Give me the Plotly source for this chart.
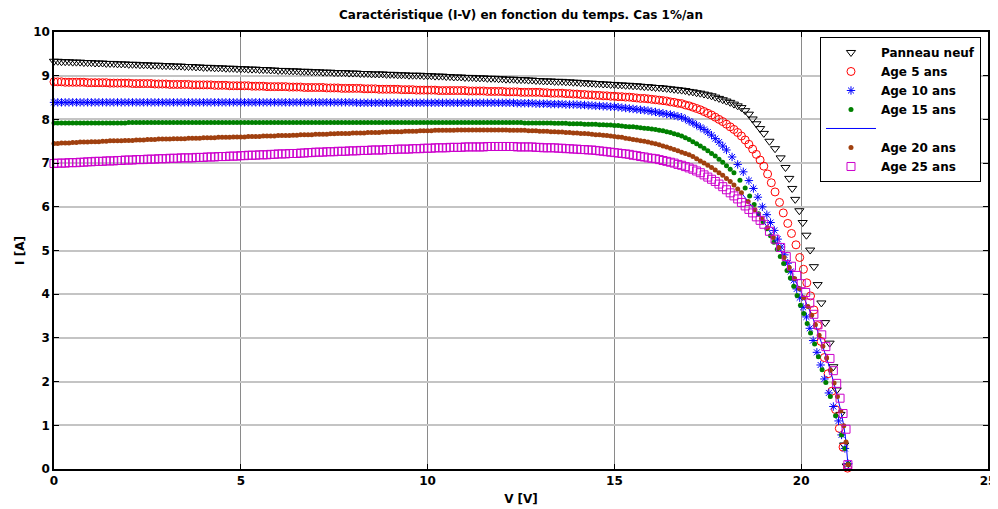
import plotly.graph_objects as go

# ---------------- data ----------------
# Common voltage samples of the flat part and beginning of the knee [V]
V_GRID = [
    0.0, 0.1, 0.2, 0.3, 0.4, 0.5, 0.6, 0.7, 0.8, 0.9,
    1.0, 1.1, 1.2, 1.3, 1.4, 1.5, 1.6, 1.7, 1.8, 1.9,
    2.0, 2.1, 2.2, 2.3, 2.4, 2.5, 2.6, 2.7, 2.8, 2.9,
    3.0, 3.1, 3.2, 3.3, 3.4, 3.5, 3.6, 3.7, 3.8, 3.9,
    4.0, 4.1, 4.2, 4.3, 4.4, 4.5, 4.6, 4.7, 4.8, 4.9,
    5.0, 5.1, 5.2, 5.3, 5.4, 5.5, 5.6, 5.7, 5.8, 5.9,
    6.0, 6.1, 6.2, 6.3, 6.4, 6.5, 6.6, 6.7, 6.8, 6.9,
    7.0, 7.1, 7.2, 7.3, 7.4, 7.5, 7.6, 7.7, 7.8, 7.9,
    8.0, 8.1, 8.2, 8.3, 8.4, 8.5, 8.6, 8.7, 8.8, 8.9,
    9.0, 9.1, 9.2, 9.3, 9.4, 9.5, 9.6, 9.7, 9.8, 9.9,
    10.0, 10.1, 10.2, 10.3, 10.4, 10.5, 10.6, 10.7, 10.8, 10.9,
    11.0, 11.1, 11.2, 11.3, 11.4, 11.5, 11.6, 11.7, 11.8, 11.9,
    12.0, 12.1, 12.2, 12.3, 12.4, 12.5, 12.6, 12.7, 12.8, 12.9,
    13.0, 13.1, 13.2, 13.3, 13.4, 13.5, 13.6, 13.7, 13.8, 13.9,
    14.0, 14.1, 14.2, 14.3, 14.4, 14.5, 14.6, 14.7, 14.8, 14.9,
    15.0, 15.1, 15.2, 15.3, 15.4, 15.5, 15.6, 15.7, 15.8, 15.9,
    16.0, 16.1, 16.2, 16.3, 16.4, 16.5, 16.6, 16.7, 16.8, 16.9,
    17.0, 17.1, 17.2, 17.3, 17.4, 17.5, 17.6, 17.7, 17.8, 17.9,
    18.0,
]

# ---- Panneau neuf ----
I_NEUF_FLAT = [
    9.33, 9.33, 9.32, 9.32, 9.32, 9.31, 9.31, 9.31, 9.30, 9.30,
    9.30, 9.29, 9.29, 9.29, 9.28, 9.28, 9.28, 9.27, 9.27, 9.27,
    9.26, 9.26, 9.26, 9.25, 9.25, 9.25, 9.24, 9.24, 9.24, 9.23,
    9.23, 9.23, 9.22, 9.22, 9.22, 9.21, 9.21, 9.21, 9.20, 9.20,
    9.19, 9.19, 9.19, 9.18, 9.18, 9.18, 9.17, 9.17, 9.17, 9.16,
    9.16, 9.16, 9.15, 9.15, 9.15, 9.14, 9.14, 9.14, 9.13, 9.13,
    9.12, 9.12, 9.12, 9.11, 9.11, 9.11, 9.10, 9.10, 9.10, 9.09,
    9.09, 9.09, 9.08, 9.08, 9.08, 9.07, 9.07, 9.07, 9.07, 9.06,
    9.06, 9.06, 9.05, 9.05, 9.05, 9.04, 9.04, 9.04, 9.04, 9.03,
    9.03, 9.03, 9.02, 9.02, 9.02, 9.01, 9.01, 9.01, 9.01, 9.00,
    9.00, 9.00, 8.99, 8.99, 8.99, 8.98, 8.98, 8.97, 8.97, 8.97,
    8.96, 8.96, 8.96, 8.95, 8.95, 8.95, 8.94, 8.94, 8.94, 8.93,
    8.93, 8.92, 8.92, 8.92, 8.91, 8.91, 8.91, 8.90, 8.90, 8.89,
    8.89, 8.88, 8.88, 8.88, 8.87, 8.87, 8.87, 8.86, 8.86, 8.85,
    8.85, 8.84, 8.84, 8.83, 8.83, 8.82, 8.82, 8.81, 8.81, 8.80,
    8.80, 8.79, 8.79, 8.78, 8.78, 8.77, 8.77, 8.76, 8.75, 8.75,
    8.74, 8.73, 8.73, 8.72, 8.71, 8.70, 8.69, 8.68, 8.67, 8.66,
    8.64, 8.63, 8.61, 8.60, 8.58, 8.56, 8.54, 8.51, 8.48, 8.45,
    8.42,
]
V_NEUF_KNEE = [18.1, 18.2, 18.3, 18.4, 18.5, 18.6, 18.7, 18.8, 18.9, 19.0,
               19.15, 19.3, 19.45, 19.58, 19.68, 19.76, 19.84, 19.95, 20.04, 20.14,
               20.24, 20.34, 20.44, 20.54, 20.64, 20.76, 20.86, 20.95, 21.05, 21.15,
               21.22]
I_NEUF_KNEE = [8.39, 8.35, 8.31, 8.27, 8.20, 8.12, 8.01, 7.90, 7.79, 7.68,
               7.50, 7.33, 7.12, 6.90, 6.65, 6.42, 6.17, 5.91, 5.64, 5.35,
               5.01, 4.63, 4.22, 3.80, 3.35, 2.88, 2.34, 1.81, 1.25, 0.55,
               0.07]

# ---- Age 5 ans ----
I_AGE5_FLAT = [
    8.86, 8.86, 8.86, 8.85, 8.85, 8.85, 8.85, 8.85, 8.85, 8.84,
    8.84, 8.84, 8.84, 8.84, 8.84, 8.83, 8.83, 8.83, 8.83, 8.83,
    8.83, 8.82, 8.82, 8.82, 8.82, 8.82, 8.82, 8.81, 8.81, 8.81,
    8.81, 8.80, 8.80, 8.80, 8.80, 8.80, 8.80, 8.79, 8.79, 8.79,
    8.79, 8.79, 8.79, 8.78, 8.78, 8.78, 8.78, 8.77, 8.77, 8.77,
    8.77, 8.77, 8.77, 8.76, 8.76, 8.76, 8.76, 8.75, 8.75, 8.75,
    8.75, 8.75, 8.75, 8.74, 8.74, 8.74, 8.74, 8.73, 8.73, 8.73,
    8.73, 8.73, 8.73, 8.72, 8.72, 8.72, 8.72, 8.71, 8.71, 8.71,
    8.71, 8.71, 8.71, 8.70, 8.70, 8.70, 8.70, 8.69, 8.69, 8.69,
    8.69, 8.69, 8.69, 8.68, 8.68, 8.68, 8.68, 8.67, 8.67, 8.67,
    8.67, 8.67, 8.67, 8.66, 8.66, 8.66, 8.66, 8.66, 8.66, 8.66,
    8.66, 8.65, 8.65, 8.65, 8.65, 8.65, 8.64, 8.64, 8.64, 8.64,
    8.64, 8.63, 8.63, 8.63, 8.63, 8.62, 8.62, 8.62, 8.62, 8.62,
    8.62, 8.61, 8.61, 8.60, 8.60, 8.60, 8.60, 8.59, 8.59, 8.58,
    8.58, 8.57, 8.57, 8.56, 8.56, 8.55, 8.55, 8.54, 8.54, 8.53,
    8.53, 8.52, 8.52, 8.51, 8.51, 8.50, 8.49, 8.48, 8.48, 8.47,
    8.46, 8.45, 8.44, 8.43, 8.42, 8.40, 8.39, 8.37, 8.36, 8.33,
    8.31, 8.28, 8.25, 8.22, 8.18, 8.14, 8.10, 8.05, 8.00, 7.95,
    7.89,
]
V_AGE5_KNEE = [18.1, 18.2, 18.3, 18.4, 18.5, 18.6, 18.7, 18.8, 18.9, 19.0,
               19.1, 19.2, 19.3, 19.42, 19.52, 19.64, 19.74, 19.86, 19.96, 20.06,
               20.15, 20.25, 20.34, 20.44, 20.53, 20.62, 20.72, 20.82, 20.92, 21.02,
               21.12, 21.24]
I_AGE5_KNEE = [7.83, 7.77, 7.70, 7.62, 7.53, 7.43, 7.32, 7.20, 7.07, 6.93,
               6.75, 6.55, 6.34, 6.10, 5.86, 5.62, 5.39, 5.13, 4.84, 4.57,
               4.26, 3.96, 3.64, 3.28, 2.92, 2.55, 2.18, 1.78, 1.36, 0.93,
               0.50, 0.02]

# ---- Age 10 ans ----
I_AGE10_FLAT = [
    8.39, 8.39, 8.39, 8.39, 8.39, 8.39, 8.39, 8.39, 8.39, 8.39,
    8.39, 8.39, 8.39, 8.39, 8.39, 8.39, 8.39, 8.39, 8.39, 8.39,
    8.39, 8.39, 8.39, 8.39, 8.39, 8.39, 8.39, 8.39, 8.39, 8.39,
    8.39, 8.39, 8.39, 8.39, 8.39, 8.39, 8.39, 8.39, 8.39, 8.39,
    8.39, 8.39, 8.39, 8.39, 8.39, 8.39, 8.39, 8.39, 8.39, 8.39,
    8.39, 8.39, 8.39, 8.39, 8.39, 8.39, 8.39, 8.39, 8.39, 8.39,
    8.39, 8.39, 8.39, 8.39, 8.39, 8.39, 8.39, 8.39, 8.39, 8.39,
    8.39, 8.39, 8.39, 8.39, 8.39, 8.39, 8.39, 8.39, 8.39, 8.39,
    8.39, 8.38, 8.38, 8.38, 8.38, 8.38, 8.38, 8.38, 8.38, 8.38,
    8.38, 8.38, 8.38, 8.38, 8.38, 8.38, 8.38, 8.38, 8.38, 8.38,
    8.38, 8.38, 8.38, 8.38, 8.38, 8.38, 8.38, 8.38, 8.38, 8.38,
    8.38, 8.38, 8.38, 8.38, 8.38, 8.38, 8.38, 8.38, 8.38, 8.38,
    8.38, 8.38, 8.38, 8.38, 8.37, 8.37, 8.37, 8.37, 8.37, 8.36,
    8.36, 8.36, 8.36, 8.35, 8.35, 8.35, 8.35, 8.34, 8.34, 8.34,
    8.34, 8.33, 8.33, 8.32, 8.32, 8.31, 8.31, 8.30, 8.30, 8.29,
    8.29, 8.28, 8.27, 8.26, 8.25, 8.24, 8.23, 8.22, 8.21, 8.20,
    8.18, 8.17, 8.15, 8.14, 8.12, 8.11, 8.09, 8.07, 8.05, 8.01,
    7.96, 7.92, 7.87, 7.82, 7.77, 7.71, 7.64, 7.56, 7.48, 7.39,
    7.30,
]
V_AGE10_KNEE = [18.15, 18.3, 18.45, 18.6, 18.72, 18.84, 18.96, 19.08, 19.18, 19.28,
                19.37, 19.46, 19.55, 19.64, 19.72, 19.8, 19.88, 19.96, 20.05, 20.14,
                20.23, 20.32, 20.42, 20.52, 20.62, 20.74, 20.86, 21.0, 21.08, 21.17,
                21.26]
I_AGE10_KNEE = [7.14, 6.97, 6.80, 6.60, 6.42, 6.22, 6.00, 5.82, 5.64, 5.46,
                5.26, 5.08, 4.90, 4.71, 4.52, 4.32, 4.12, 3.92, 3.70, 3.48,
                3.22, 2.94, 2.67, 2.38, 2.06, 1.74, 1.43, 1.10, 0.78, 0.47,
                0.12]

# ---- Age 15 ans ----
I_AGE15_FLAT = [
    7.92, 7.92, 7.92, 7.92, 7.92, 7.92, 7.92, 7.92, 7.92, 7.92,
    7.92, 7.92, 7.92, 7.92, 7.92, 7.92, 7.92, 7.92, 7.92, 7.92,
    7.93, 7.93, 7.93, 7.93, 7.93, 7.93, 7.93, 7.93, 7.93, 7.93,
    7.93, 7.93, 7.93, 7.93, 7.93, 7.93, 7.93, 7.93, 7.93, 7.93,
    7.93, 7.93, 7.93, 7.93, 7.93, 7.93, 7.93, 7.93, 7.93, 7.93,
    7.93, 7.93, 7.93, 7.93, 7.93, 7.93, 7.93, 7.93, 7.93, 7.93,
    7.93, 7.93, 7.93, 7.93, 7.93, 7.93, 7.93, 7.93, 7.93, 7.93,
    7.93, 7.93, 7.93, 7.93, 7.93, 7.93, 7.93, 7.93, 7.93, 7.93,
    7.93, 7.93, 7.93, 7.93, 7.93, 7.93, 7.93, 7.93, 7.93, 7.93,
    7.93, 7.93, 7.93, 7.93, 7.93, 7.93, 7.93, 7.93, 7.93, 7.93,
    7.93, 7.93, 7.93, 7.93, 7.93, 7.93, 7.93, 7.93, 7.93, 7.93,
    7.93, 7.93, 7.93, 7.93, 7.93, 7.93, 7.93, 7.93, 7.93, 7.93,
    7.93, 7.93, 7.93, 7.93, 7.93, 7.93, 7.92, 7.92, 7.92, 7.92,
    7.92, 7.92, 7.92, 7.92, 7.91, 7.91, 7.91, 7.91, 7.90, 7.90,
    7.90, 7.90, 7.89, 7.89, 7.89, 7.89, 7.88, 7.88, 7.87, 7.87,
    7.86, 7.86, 7.85, 7.84, 7.83, 7.83, 7.82, 7.81, 7.80, 7.79,
    7.78, 7.77, 7.75, 7.74, 7.72, 7.70, 7.67, 7.65, 7.62, 7.58,
    7.54, 7.49, 7.44, 7.39, 7.34, 7.28, 7.22, 7.16, 7.09, 7.02,
    6.94,
]
V_AGE15_KNEE = [18.1, 18.2, 18.36, 18.5, 18.62, 18.74, 18.86, 18.98, 19.08, 19.18,
                19.27, 19.36, 19.44, 19.53, 19.62, 19.71, 19.8, 19.89, 19.98, 20.07,
                20.16, 20.25, 20.36, 20.46, 20.56, 20.66, 20.78, 20.92, 21.08, 21.17,
                21.26]
I_AGE15_KNEE = [6.86, 6.78, 6.61, 6.43, 6.25, 6.05, 5.84, 5.66, 5.50, 5.34,
                5.19, 5.03, 4.86, 4.70, 4.54, 4.37, 4.18, 3.97, 3.75, 3.56,
                3.33, 3.11, 2.86, 2.57, 2.27, 1.98, 1.66, 1.22, 0.78, 0.47,
                0.12]

# ---- Age 20 ans ----
I_AGE20_FLAT = [
    7.45, 7.45, 7.46, 7.46, 7.46, 7.47, 7.47, 7.48, 7.48, 7.48,
    7.49, 7.49, 7.49, 7.50, 7.50, 7.51, 7.51, 7.51, 7.51, 7.52,
    7.52, 7.52, 7.53, 7.53, 7.53, 7.54, 7.54, 7.54, 7.55, 7.55,
    7.55, 7.55, 7.56, 7.56, 7.56, 7.56, 7.57, 7.57, 7.57, 7.57,
    7.58, 7.58, 7.58, 7.58, 7.59, 7.59, 7.59, 7.59, 7.60, 7.60,
    7.60, 7.60, 7.61, 7.61, 7.61, 7.61, 7.62, 7.62, 7.62, 7.62,
    7.63, 7.63, 7.63, 7.63, 7.64, 7.64, 7.65, 7.65, 7.65, 7.65,
    7.66, 7.66, 7.66, 7.66, 7.67, 7.67, 7.68, 7.68, 7.68, 7.68,
    7.69, 7.69, 7.69, 7.69, 7.70, 7.70, 7.70, 7.70, 7.71, 7.71,
    7.72, 7.72, 7.72, 7.72, 7.73, 7.73, 7.73, 7.73, 7.74, 7.74,
    7.74, 7.74, 7.75, 7.75, 7.75, 7.75, 7.75, 7.75, 7.76, 7.76,
    7.76, 7.76, 7.76, 7.76, 7.76, 7.76, 7.76, 7.76, 7.76, 7.76,
    7.76, 7.76, 7.75, 7.75, 7.75, 7.75, 7.75, 7.74, 7.74, 7.74,
    7.73, 7.73, 7.73, 7.72, 7.72, 7.71, 7.71, 7.70, 7.70, 7.69,
    7.69, 7.68, 7.68, 7.67, 7.66, 7.65, 7.65, 7.64, 7.63, 7.62,
    7.61, 7.60, 7.59, 7.57, 7.56, 7.54, 7.53, 7.51, 7.50, 7.48,
    7.46, 7.44, 7.42, 7.39, 7.37, 7.34, 7.31, 7.28, 7.25, 7.22,
    7.19, 7.15, 7.10, 7.05, 7.00, 6.95, 6.90, 6.84, 6.78, 6.72,
    6.65,
]
V_AGE20_KNEE = [18.1, 18.2, 18.3, 18.4, 18.58, 18.76, 18.94, 19.1, 19.25, 19.4,
                19.54, 19.68, 19.82, 19.95, 20.07, 20.18, 20.28, 20.38, 20.48, 20.58,
                20.68, 20.78, 20.88, 20.97, 21.06, 21.14, 21.2, 21.25]
I_AGE20_KNEE = [6.58, 6.50, 6.41, 6.32, 6.12, 5.93, 5.73, 5.52, 5.30, 5.07,
                4.84, 4.61, 4.36, 4.13, 3.92, 3.72, 3.52, 3.30, 3.06, 2.81,
                2.54, 2.26, 1.97, 1.66, 1.33, 0.99, 0.62, 0.10]

# ---- Age 25 ans ----
I_AGE25_FLAT = [
    6.99, 7.00, 7.00, 7.00, 7.01, 7.01, 7.01, 7.02, 7.02, 7.03,
    7.03, 7.04, 7.04, 7.04, 7.05, 7.05, 7.05, 7.06, 7.06, 7.07,
    7.07, 7.07, 7.08, 7.08, 7.08, 7.09, 7.09, 7.09, 7.10, 7.10,
    7.10, 7.11, 7.11, 7.11, 7.12, 7.12, 7.12, 7.12, 7.13, 7.13,
    7.13, 7.14, 7.14, 7.14, 7.15, 7.15, 7.15, 7.16, 7.16, 7.16,
    7.17, 7.17, 7.18, 7.18, 7.18, 7.19, 7.19, 7.19, 7.20, 7.20,
    7.21, 7.21, 7.21, 7.22, 7.22, 7.22, 7.23, 7.23, 7.24, 7.24,
    7.25, 7.25, 7.25, 7.26, 7.26, 7.26, 7.27, 7.27, 7.27, 7.28,
    7.28, 7.28, 7.29, 7.29, 7.29, 7.30, 7.30, 7.30, 7.30, 7.31,
    7.31, 7.31, 7.32, 7.32, 7.32, 7.32, 7.33, 7.33, 7.33, 7.34,
    7.34, 7.34, 7.35, 7.35, 7.35, 7.35, 7.36, 7.36, 7.36, 7.36,
    7.37, 7.37, 7.37, 7.37, 7.37, 7.37, 7.38, 7.38, 7.38, 7.38,
    7.38, 7.38, 7.38, 7.38, 7.37, 7.37, 7.37, 7.37, 7.37, 7.36,
    7.36, 7.35, 7.35, 7.35, 7.35, 7.34, 7.34, 7.33, 7.33, 7.32,
    7.32, 7.31, 7.31, 7.30, 7.30, 7.29, 7.28, 7.27, 7.26, 7.25,
    7.24, 7.23, 7.22, 7.21, 7.20, 7.18, 7.17, 7.15, 7.14, 7.12,
    7.11, 7.10, 7.08, 7.06, 7.04, 7.02, 7.00, 6.97, 6.95, 6.92,
    6.89, 6.86, 6.82, 6.78, 6.73, 6.68, 6.63, 6.58, 6.52, 6.46,
    6.39,
]
V_AGE25_KNEE = [18.1, 18.2, 18.3, 18.4, 18.5, 18.6, 18.7, 18.8, 18.9, 19.0,
                19.15, 19.3, 19.45, 19.6, 19.74, 19.88, 20.0, 20.12, 20.23, 20.34,
                20.45, 20.55, 20.66, 20.77, 20.86, 20.95, 21.04, 21.12, 21.2, 21.25]
I_AGE25_KNEE = [6.32, 6.25, 6.18, 6.10, 6.02, 5.94, 5.86, 5.77, 5.69, 5.60,
                5.44, 5.26, 5.07, 4.86, 4.64, 4.43, 4.24, 4.04, 3.80, 3.54,
                3.30, 3.07, 2.80, 2.53, 2.25, 1.96, 1.62, 1.27, 0.91, 0.10]

X_TICKS = [0, 5, 10, 15, 20, 25]
Y_TICKS = [0, 1, 2, 3, 4, 5, 6, 7, 8, 9, 10]

TITLE = "Caractéristique (I-V) en fonction du temps. Cas 1%/an"
X_LABEL = "V [V]"
Y_LABEL = "I [A]"

for _flat in (I_NEUF_FLAT, I_AGE5_FLAT, I_AGE10_FLAT, I_AGE15_FLAT, I_AGE20_FLAT, I_AGE25_FLAT):
    assert len(_flat) == len(V_GRID), len(_flat)
for _v, _i in ((V_NEUF_KNEE, I_NEUF_KNEE), (V_AGE5_KNEE, I_AGE5_KNEE),
               (V_AGE10_KNEE, I_AGE10_KNEE), (V_AGE15_KNEE, I_AGE15_KNEE),
               (V_AGE20_KNEE, I_AGE20_KNEE), (V_AGE25_KNEE, I_AGE25_KNEE)):
    assert len(_v) == len(_i), (len(_v), len(_i))

# ---------------- figure ----------------
FONT = "DejaVu Sans, Liberation Sans, Arial, sans-serif"

# The page body has an 8 px margin: the figure is 990x501 so that the plot
# area lands on the same pixels as in the reference.
W, H = 990, 501

series = [
    ("Panneau neuf", V_GRID + V_NEUF_KNEE, I_NEUF_FLAT + I_NEUF_KNEE,
     dict(symbol="triangle-down-open", size=8, color="black", line=dict(width=1, color="black"))),
    ("Age 5 ans", V_GRID + V_AGE5_KNEE, I_AGE5_FLAT + I_AGE5_KNEE,
     dict(symbol="circle-open", size=8, color="#ff0000", line=dict(width=1, color="#ff0000"))),
    ("Age 10 ans", V_GRID + V_AGE10_KNEE, I_AGE10_FLAT + I_AGE10_KNEE,
     dict(symbol="asterisk-open", size=7, color="#0000ff", line=dict(width=1, color="#0000ff"))),
    ("Age 15 ans", V_GRID + V_AGE15_KNEE, I_AGE15_FLAT + I_AGE15_KNEE,
     dict(symbol="circle", size=5, color="#008000", line=dict(width=0))),
]

fig = go.Figure()
for name, xs, ys, mk in series:
    fig.add_trace(go.Scatter(x=xs, y=ys, mode="markers", name=name, marker=mk,
                             cliponaxis=False))

# thin blue line (unnamed legend entry)
fig.add_trace(go.Scatter(x=V_GRID + V_AGE20_KNEE, y=I_AGE20_FLAT + I_AGE20_KNEE,
                         mode="lines", name="", line=dict(color="#0000ff", width=1),
                         cliponaxis=False))

fig.add_trace(go.Scatter(x=V_GRID + V_AGE20_KNEE, y=I_AGE20_FLAT + I_AGE20_KNEE,
                         mode="markers", name="Age 20 ans",
                         marker=dict(symbol="circle", size=5, color="#a0400f", line=dict(width=0)),
                         cliponaxis=False))
fig.add_trace(go.Scatter(x=V_GRID + V_AGE25_KNEE, y=I_AGE25_FLAT + I_AGE25_KNEE,
                         mode="markers", name="Age 25 ans",
                         marker=dict(symbol="square-open", size=8, color="#cc00cc",
                                     line=dict(width=1, color="#cc00cc")),
                         cliponaxis=False))

axis_common = dict(
    showline=True, linecolor="black", linewidth=1.5, mirror="ticks",
    ticks="inside", ticklen=5, tickcolor="black", tickwidth=1,
    zeroline=False, showgrid=True,
    tickfont=dict(family=FONT, size=12, color="black", weight="bold"),
)

fig.update_layout(
    width=W, height=H,
    margin=dict(l=46, r=10, t=24, b=40, autoexpand=False),
    paper_bgcolor="white", plot_bgcolor="white",
    font=dict(family=FONT, size=12, color="black"),
    title=dict(text=TITLE, x=0.5, xref="paper", y=1 - 7 / H, yref="container",
               xanchor="center", yanchor="middle",
               font=dict(family=FONT, size=12, color="black", weight="bold")),
    xaxis=dict(range=[0, 25], tickvals=X_TICKS, gridcolor="#8a8a8a", gridwidth=1,
               title=dict(text=X_LABEL, standoff=7,
                          font=dict(family=FONT, size=12, color="black", weight="bold")),
               **axis_common),
    yaxis=dict(range=[0, 10], tickvals=Y_TICKS, gridcolor="#c4c4c4", gridwidth=2,
               title=dict(text=Y_LABEL, standoff=6,
                          font=dict(family=FONT, size=12, color="black", weight="bold")),
               **axis_common),
    legend=dict(x=0.9925, y=0.9886, xanchor="right", yanchor="top",
                bgcolor="white", bordercolor="black", borderwidth=1,
                itemwidth=50, tracegroupgap=0,
                font=dict(family=FONT, size=12, color="black", weight="bold")),
    showlegend=True,
)

fig.write_html("out.html")
